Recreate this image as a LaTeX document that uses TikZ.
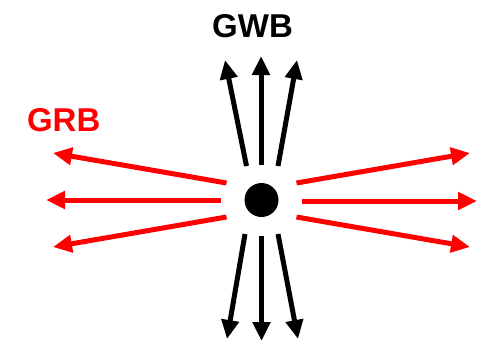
\documentclass[tikz,border=0pt]{standalone}
\usepackage{fontspec}
\setmainfont{Liberation Sans}
\usetikzlibrary{arrows.meta}
\begin{document}
\begin{tikzpicture}[x=1pt,y=-1pt,
  arr/.style={line width=5pt,-{Triangle[length=19pt,width=17pt]}},
  gw/.style={arr,black},
  grb/.style={arr,red},
  lbl/.style={font=\fontsize{33}{33}\selectfont\bfseries,inner sep=0pt}]
\useasboundingbox (0,0) rectangle (478,340);
\node[circle,fill=black,minimum size=34pt,inner sep=0pt] (c) at (261.5,200) {};
\node[lbl,black] (gwb) at (252.5,26.5) {GWB};
\node[lbl,red] (grbl) at (63.7,120) {GRB};
% up
\coordinate (u1s) at (246.5,166); \coordinate (u1e) at (225,60);
\coordinate (u2s) at (261,165); \coordinate (u2e) at (261,56);
\coordinate (u3s) at (278,166); \coordinate (u3e) at (297,60);
% down
\coordinate (d1s) at (245,234); \coordinate (d1e) at (227,339);
\coordinate (d2s) at (261.5,236); \coordinate (d2e) at (261.5,341);
\coordinate (d3s) at (278,234); \coordinate (d3e) at (298,339);
% left
\coordinate (l1s) at (226.5,183); \coordinate (l1e) at (53,153);
\coordinate (l2s) at (221,200); \coordinate (l2e) at (46,200);
\coordinate (l3s) at (226.5,217); \coordinate (l3e) at (53,247);
% right
\coordinate (r1s) at (296.5,183); \coordinate (r1e) at (470,153);
\coordinate (r2s) at (301.5,201); \coordinate (r2e) at (477,201);
\coordinate (r3s) at (296.5,217); \coordinate (r3e) at (470,247);
\foreach \a in {u1,u2,u3,d1,d2,d3} \draw[gw] (\a s) -- (\a e);
\foreach \a in {l1,l2,l3,r1,r2,r3} \draw[grb] (\a s) -- (\a e);
\end{tikzpicture}
\end{document}
